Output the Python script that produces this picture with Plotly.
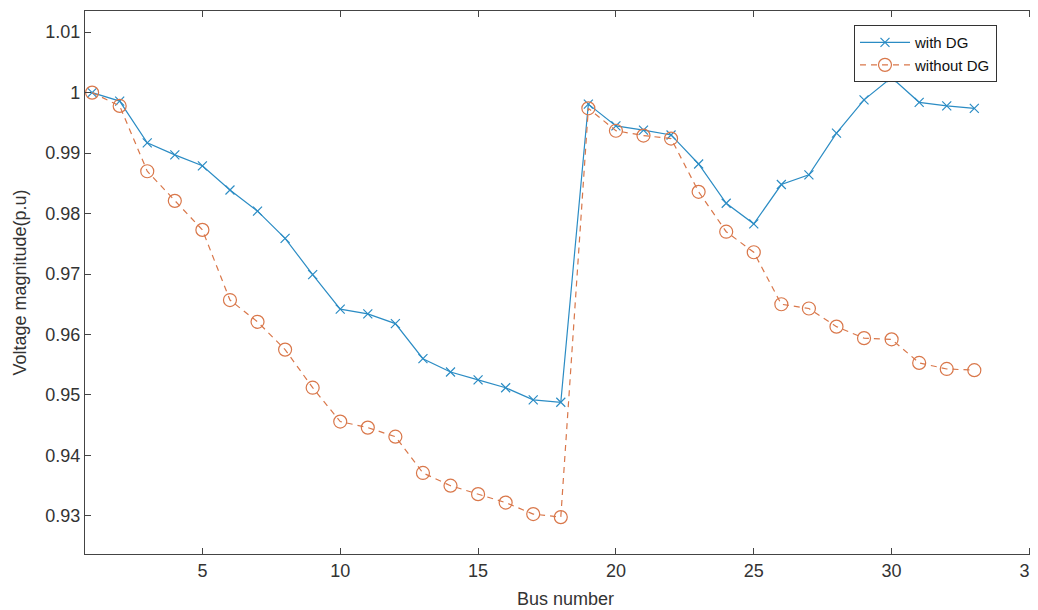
import plotly.graph_objects as go

bus = list(range(1, 34))
with_dg = [1.0000, 0.9986, 0.9917, 0.9897, 0.9879, 0.9839, 0.9804, 0.9759, 0.9699, 0.9642,
           0.9634, 0.9618, 0.9560, 0.9538, 0.9525, 0.9512, 0.9492, 0.9488, 0.9981, 0.9945,
           0.9938, 0.9930, 0.9882, 0.9817, 0.9783, 0.9848, 0.9864, 0.9933, 0.9988, 1.0025,
           0.9984, 0.9978, 0.9974]
without_dg = [1.0000, 0.9978, 0.9870, 0.9821, 0.9773, 0.9657, 0.9621, 0.9575, 0.9512, 0.9456,
              0.9446, 0.9431, 0.9371, 0.9350, 0.9336, 0.9322, 0.9303, 0.9298, 0.9974, 0.9937,
              0.9929, 0.9924, 0.9836, 0.9770, 0.9736, 0.9650, 0.9643, 0.9613, 0.9594, 0.9592,
              0.9553, 0.9543, 0.9541]
x_ticks = [5, 10, 15, 20, 25, 30, 35]
y_ticks = [0.93, 0.94, 0.95, 0.96, 0.97, 0.98, 0.99, 1.00, 1.01]
y_tick_text = ["0.93", "0.94", "0.95", "0.96", "0.97", "0.98", "0.99", "1", "1.01"]

blue = "#2b8cc4"
orange = "#d9774a"
axis_col = "#444444"
text_col = "#333333"
font_fam = "Liberation Sans, Arial, sans-serif"

fig = go.Figure()
fig.add_trace(go.Scatter(
    x=bus, y=with_dg, name="with DG", mode="lines+markers",
    line=dict(color=blue, width=1.2),
    marker=dict(symbol="x-thin-open", size=9, line=dict(color=blue, width=1.2)),
))
fig.add_trace(go.Scatter(
    x=bus, y=without_dg, name="without DG", mode="lines+markers",
    line=dict(color=orange, width=1.2, dash="6px,5px"),
    marker=dict(symbol="circle-open", size=13, line=dict(color=orange, width=1.2)),
))

axis_common = dict(
    showline=True, linecolor=axis_col, linewidth=1.2, mirror="ticks",
    ticks="inside", ticklen=6, tickcolor=axis_col, tickwidth=1,
    showgrid=False, zeroline=False, automargin=False,
    tickfont=dict(family=font_fam, size=18, color=text_col),
)

fig.update_layout(
    width=1038, height=610,
    margin=dict(l=77, r=0, t=3, b=64),
    paper_bgcolor="white", plot_bgcolor="white",
    font=dict(family=font_fam, size=18, color=text_col),
    xaxis=dict(range=[0.742, 35.6], tickvals=x_ticks,
               title=dict(text="Bus number", standoff=12, font=dict(size=18)),
               **axis_common),
    yaxis=dict(range=[0.9237, 1.0135], tickvals=y_ticks, ticktext=y_tick_text,
               title=dict(text="Voltage magnitude(p.u)", standoff=13, font=dict(size=18)),
               **axis_common),
    legend=dict(x=0.949, y=0.974, xanchor="right", yanchor="top",
                bgcolor="white", bordercolor="#333333", borderwidth=1,
                font=dict(size=15, color="#111111"), tracegroupgap=0,
                itemwidth=50),
    showlegend=True,
)

fig.write_html("out.html")
